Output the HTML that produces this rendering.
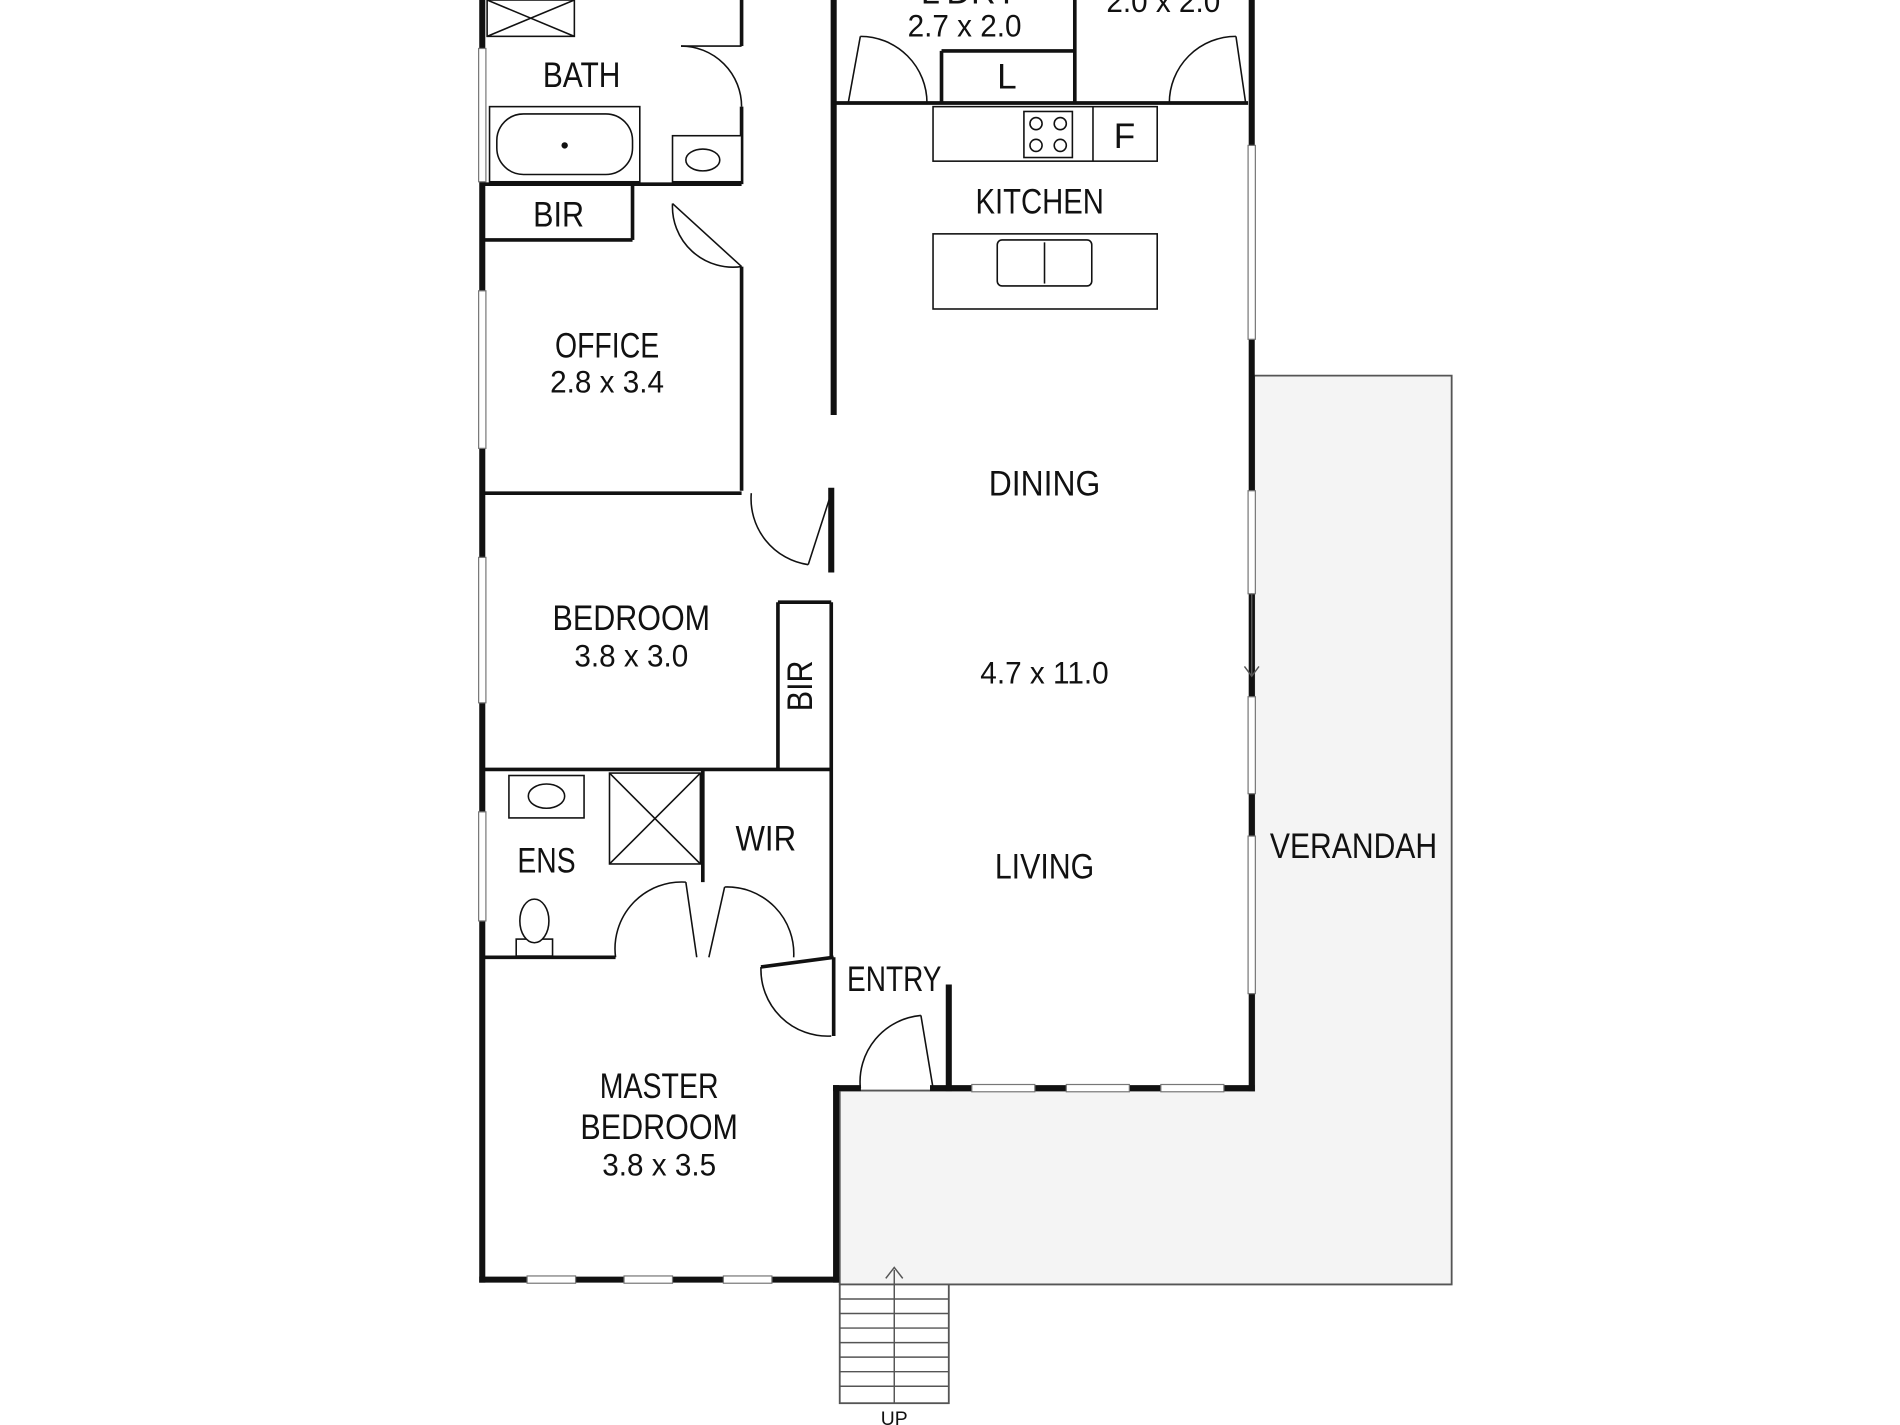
<!DOCTYPE html>
<html><head><meta charset="utf-8"><style>
html,body{margin:0;padding:0;background:#fff;width:1900px;height:1425px;overflow:hidden}
text{font-family:"Liberation Sans Narrow","Liberation Sans",sans-serif;fill:#111}
</style></head><body>
<svg width="1900" height="1425" viewBox="0 0 1568 1176" xmlns="http://www.w3.org/2000/svg">
<rect width="1568" height="1176" fill="#fff"/>
<polygon points="1035,310 1198,310 1198,1060 693,1060 693,900 1035,900" fill="#f4f4f4" stroke="#555" stroke-width="1.5"/>
<rect x="693" y="1060" width="90" height="98" fill="#fff" stroke="#555" stroke-width="1.5"/>
<g stroke="#555" stroke-width="1.2">
<line x1="693" y1="1072" x2="783" y2="1072"/><line x1="693" y1="1084" x2="783" y2="1084"/><line x1="693" y1="1096" x2="783" y2="1096"/><line x1="693" y1="1108" x2="783" y2="1108"/><line x1="693" y1="1120" x2="783" y2="1120"/><line x1="693" y1="1132" x2="783" y2="1132"/><line x1="693" y1="1144" x2="783" y2="1144"/>
<line x1="738" y1="1048" x2="738" y2="1158"/><polyline points="731,1055 738,1046 745,1055" fill="none"/>
</g>
<text x="738" y="1176" font-size="16" text-anchor="middle">UP</text>
<g stroke="#111" stroke-width="5" fill="none" stroke-linecap="square">
<line x1="398" y1="0" x2="398" y2="1056"/>
<line x1="398" y1="1056" x2="690" y2="1056"/>
<line x1="690" y1="1056" x2="690" y2="898"/>
<line x1="690" y1="898" x2="708" y2="898"/>
<line x1="770" y1="898" x2="1033" y2="898"/>
<line x1="1033" y1="898" x2="1033" y2="0"/>
<line x1="688" y1="0" x2="688" y2="340"/>
<line x1="686" y1="405" x2="686" y2="470"/>
<line x1="783" y1="815" x2="783" y2="898"/>
</g>
<g fill="#fff" stroke="#777" stroke-width="1">
<rect x="395" y="40" width="6" height="110"/><rect x="395" y="240" width="6" height="130"/>
<rect x="395" y="460" width="6" height="120"/><rect x="395" y="670" width="6" height="90"/>
<rect x="1030" y="120" width="6" height="160"/><rect x="1030" y="405" width="6" height="85"/>
<rect x="1030" y="575" width="6" height="80"/><rect x="1030" y="690" width="6" height="130"/>
<rect x="435" y="1053" width="40" height="6"/><rect x="515" y="1053" width="40" height="6"/><rect x="597" y="1053" width="40" height="6"/>
<rect x="802" y="895" width="52" height="6"/><rect x="880" y="895" width="52" height="6"/><rect x="958" y="895" width="52" height="6"/>
</g>
<line x1="1033" y1="490" x2="1033" y2="558" stroke="#555" stroke-width="1.2"/>
<polyline points="1027,550 1033,558 1039,550" fill="none" stroke="#555" stroke-width="1.2"/>
<g stroke="#111" stroke-width="3" fill="none">
<line x1="400" y1="152" x2="612" y2="152"/>
<line x1="612" y1="0" x2="612" y2="38"/><line x1="612" y1="88" x2="612" y2="152"/>
<line x1="400" y1="198" x2="522" y2="198"/><line x1="522" y1="152" x2="522" y2="198"/>
<line x1="612" y1="220" x2="612" y2="405"/>
<line x1="400" y1="407" x2="612" y2="407"/>
<line x1="400" y1="635" x2="686" y2="635"/>
<line x1="642" y1="497" x2="686" y2="497"/><line x1="642" y1="497" x2="642" y2="635"/>
<line x1="580" y1="635" x2="580" y2="728"/>
<line x1="686" y1="497" x2="686" y2="790"/>
<line x1="400" y1="790" x2="508" y2="790"/>
<line x1="628" y1="798" x2="688" y2="790"/>
<line x1="688" y1="85" x2="1030" y2="85"/>
<line x1="887" y1="0" x2="887" y2="85"/>
<line x1="777" y1="42" x2="887" y2="42"/><line x1="777" y1="42" x2="777" y2="85"/>
<line x1="688" y1="790" x2="688" y2="855"/>
</g>
<g stroke="#111" stroke-width="1.3" fill="none">
<path d="M612,88 A50,50 0 0 0 562,38"/><line x1="612" y1="38" x2="562" y2="38"/>
<path d="M612,220 A50,50 0 0 1 555,168"/><line x1="612" y1="220" x2="555" y2="168"/>
<path d="M620,407 A55,55 0 0 0 667,466"/><line x1="686" y1="407" x2="667" y2="466"/>
<path d="M508,790 A55,55 0 0 1 566,728"/><line x1="566" y1="728" x2="575" y2="790"/>
<path d="M598,732 A55,55 0 0 1 655,790"/><line x1="598" y1="732" x2="585" y2="790"/>
<path d="M628,798 A55,55 0 0 0 686,855"/>
<path d="M710,898 A55,55 0 0 1 760,838"/><line x1="760" y1="838" x2="770" y2="898"/>
<path d="M710,30 A55,55 0 0 1 765,85"/><line x1="710" y1="30" x2="700" y2="85"/>
<path d="M1020,30 A55,55 0 0 0 965,85"/><line x1="1020" y1="30" x2="1028" y2="85"/>
</g>
<g stroke="#111" stroke-width="1.3" fill="#fff">
<rect x="402" y="0" width="72" height="30"/><line x1="402" y1="0" x2="474" y2="30"/><line x1="474" y1="0" x2="402" y2="30"/>
<rect x="404" y="88" width="124" height="62"/><rect x="410" y="94" width="112" height="50" rx="22"/>
<circle cx="466" cy="120" r="2" fill="#111"/>
<rect x="555" y="112" width="57" height="38"/><ellipse cx="580" cy="132" rx="14" ry="9"/>
<rect x="770" y="88" width="185" height="45"/><line x1="902" y1="88" x2="902" y2="133"/>
<rect x="845" y="92" width="40" height="38"/>
<circle cx="855" cy="102" r="5"/><circle cx="875" cy="102" r="5"/><circle cx="855" cy="120" r="5"/><circle cx="875" cy="120" r="5"/>
<rect x="770" y="193" width="185" height="62"/>
<rect x="823" y="198" width="78" height="38" rx="4"/><line x1="862" y1="200" x2="862" y2="234"/>
<rect x="420" y="640" width="62" height="35"/><ellipse cx="451" cy="657" rx="15" ry="10"/>
<rect x="503" y="638" width="75" height="75"/><line x1="503" y1="638" x2="578" y2="713"/><line x1="578" y1="638" x2="503" y2="713"/>
<rect x="426" y="775" width="30" height="14"/><ellipse cx="441" cy="760" rx="12" ry="18"/>
</g>
<g font-size="29" text-anchor="middle" lengthAdjust="spacingAndGlyphs">
<text x="480" y="72" textLength="64" lengthAdjust="spacingAndGlyphs">BATH</text>
<text x="461" y="187" textLength="42" lengthAdjust="spacingAndGlyphs">BIR</text>
<text x="501" y="295" textLength="86" lengthAdjust="spacingAndGlyphs">OFFICE</text>
<text x="501" y="324" font-size="26" textLength="94" lengthAdjust="spacingAndGlyphs">2.8 x 3.4</text>
<text x="521" y="520" textLength="130" lengthAdjust="spacingAndGlyphs">BEDROOM</text>
<text x="521" y="550" font-size="26" textLength="94" lengthAdjust="spacingAndGlyphs">3.8 x 3.0</text>
<text x="451" y="720" textLength="48" lengthAdjust="spacingAndGlyphs">ENS</text>
<text x="632" y="702" textLength="50" lengthAdjust="spacingAndGlyphs">WIR</text>
<text x="738" y="818" textLength="78" lengthAdjust="spacingAndGlyphs">ENTRY</text>
<text x="544" y="906" textLength="98" lengthAdjust="spacingAndGlyphs">MASTER</text>
<text x="544" y="940" textLength="130" lengthAdjust="spacingAndGlyphs">BEDROOM</text>
<text x="544" y="970" font-size="26" textLength="94" lengthAdjust="spacingAndGlyphs">3.8 x 3.5</text>
<text x="858" y="176" textLength="106" lengthAdjust="spacingAndGlyphs">KITCHEN</text>
<text x="862" y="409" textLength="92" lengthAdjust="spacingAndGlyphs">DINING</text>
<text x="862" y="564" font-size="26" textLength="106" lengthAdjust="spacingAndGlyphs">4.7 x 11.0</text>
<text x="862" y="725" textLength="82" lengthAdjust="spacingAndGlyphs">LIVING</text>
<text x="1117" y="708" textLength="138" lengthAdjust="spacingAndGlyphs">VERANDAH</text>
<text x="831" y="73">L</text>
<text x="928" y="122">F</text>
<text x="796" y="30" font-size="26" textLength="94" lengthAdjust="spacingAndGlyphs">2.7 x 2.0</text>
<text x="960" y="10" font-size="26" textLength="94" lengthAdjust="spacingAndGlyphs">2.0 x 2.0</text>
<text x="800" y="3" textLength="80" lengthAdjust="spacingAndGlyphs">L'DRY</text>
<text x="670" y="566" transform="rotate(-90 670 566)" textLength="42" lengthAdjust="spacingAndGlyphs">BIR</text>
</g>
</svg>
</body></html>
